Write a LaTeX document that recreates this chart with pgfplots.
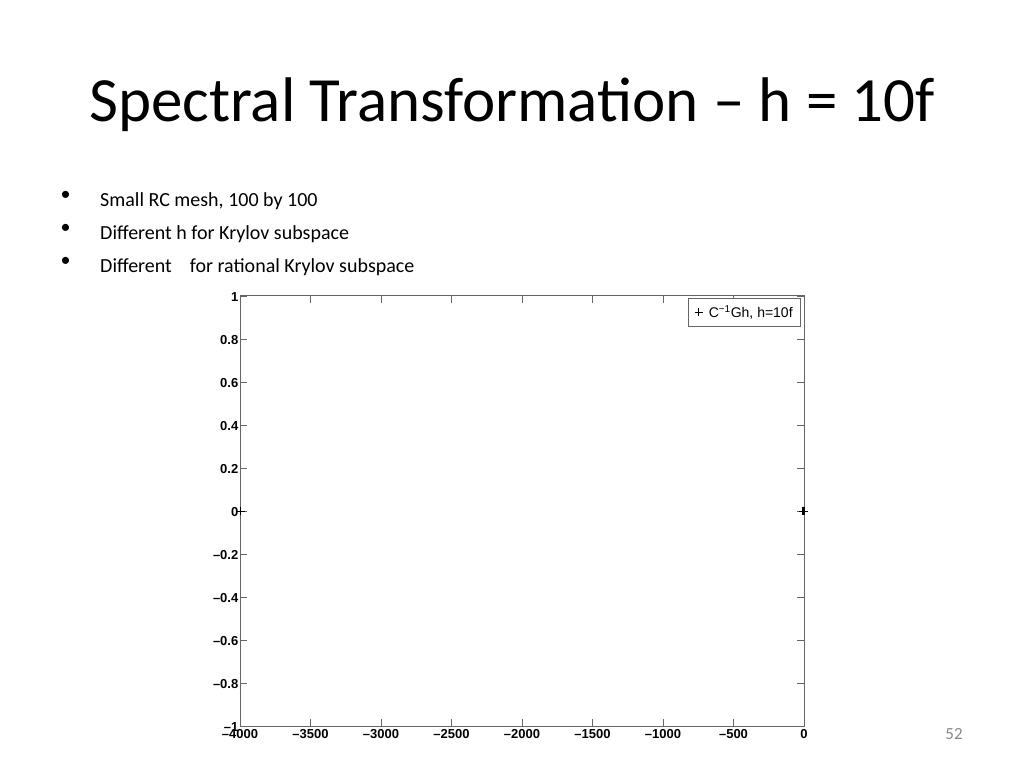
\documentclass[border=0pt]{standalone}
\usepackage{fontspec}
\setmainfont{Carlito}
\newfontfamily\hel{Liberation Sans}
\usepackage{pgfplots}
\pgfplotsset{compat=1.18}

\begin{document}
\begin{tikzpicture}[x=1pt,y=1pt]
% slide area, 1 px = 1 pt
\fill[white] (0,0) rectangle (1024,768);

% title and bullets
\node[anchor=base] at (512,646) {\fontsize{63}{70}\selectfont Spectral Transformation -- h = 10f};
\node[anchor=base west] at (57,567) {\fontsize{20}{24}\selectfont \textbullet};
\node[anchor=base west] at (57,534) {\fontsize{20}{24}\selectfont \textbullet};
\node[anchor=base west] at (57,501) {\fontsize{20}{24}\selectfont \textbullet};
\node[anchor=base west,inner sep=0pt] at (100,561) {\fontsize{20}{24}\selectfont Small RC mesh, 100 by 100};
\node[anchor=base west,inner sep=0pt] at (100,528) {\fontsize{20}{24}\selectfont Different h for Krylov subspace};
\node[anchor=base west,inner sep=0pt] at (100,495) {\fontsize{20}{24}\selectfont Different\hspace{18pt}for rational Krylov subspace};
\node[anchor=base,text=black!46] at (954,29) {\fontsize{17}{20}\selectfont 52};

\begin{axis}[
    at={(240pt,42pt)}, anchor=south west,
    width=564pt, height=430pt, scale only axis,
    xmin=-4000, xmax=0, ymin=-1, ymax=1,
    xtick={-4000,-3500,...,0},
    ytick={-1,-0.8,...,1},
    yticklabels={–1,–0.8,–0.6,–0.4,–0.2,0,0.2,0.4,0.6,0.8,1},
    xticklabels={–4000,–3500,–3000,–2500,–2000,–1500,–1000,–500,0},
    tick align=inside,
    major tick length=7pt,
    axis line style={black!60, line width=1pt},
    tick style={black!60, line width=0.9pt},
    ticklabel style={font=\hel\bfseries\fontsize{13}{15}\selectfont, inner sep=1.5pt},
    xticklabel style={yshift=-2pt},
    yticklabel style={yshift=-1pt},
    /pgf/number format/assume math mode=true,
    clip=false,
    legend style={at={(axis description cs:0.995,0.995)}, anchor=north east,
        font=\hel\fontsize{14}{16}\selectfont, draw=black!60, line width=1pt,
        inner xsep=6pt, inner ysep=5pt},
    legend cell align=left,
]
\addplot[only marks, mark=+, mark size=4pt, black, line width=0.8pt] coordinates {
    (-3995,0) (-8,0) (-5,0) (-3,0) (-2,0) (-1,0) (-0.5,0) (0,0)
};
\addlegendentry{\hspace{4pt}C$^{\textrm{\hel\fontsize{10}{11}\selectfont −1}}$Gh, h=10f}
\end{axis}
\end{tikzpicture}
\end{document}
